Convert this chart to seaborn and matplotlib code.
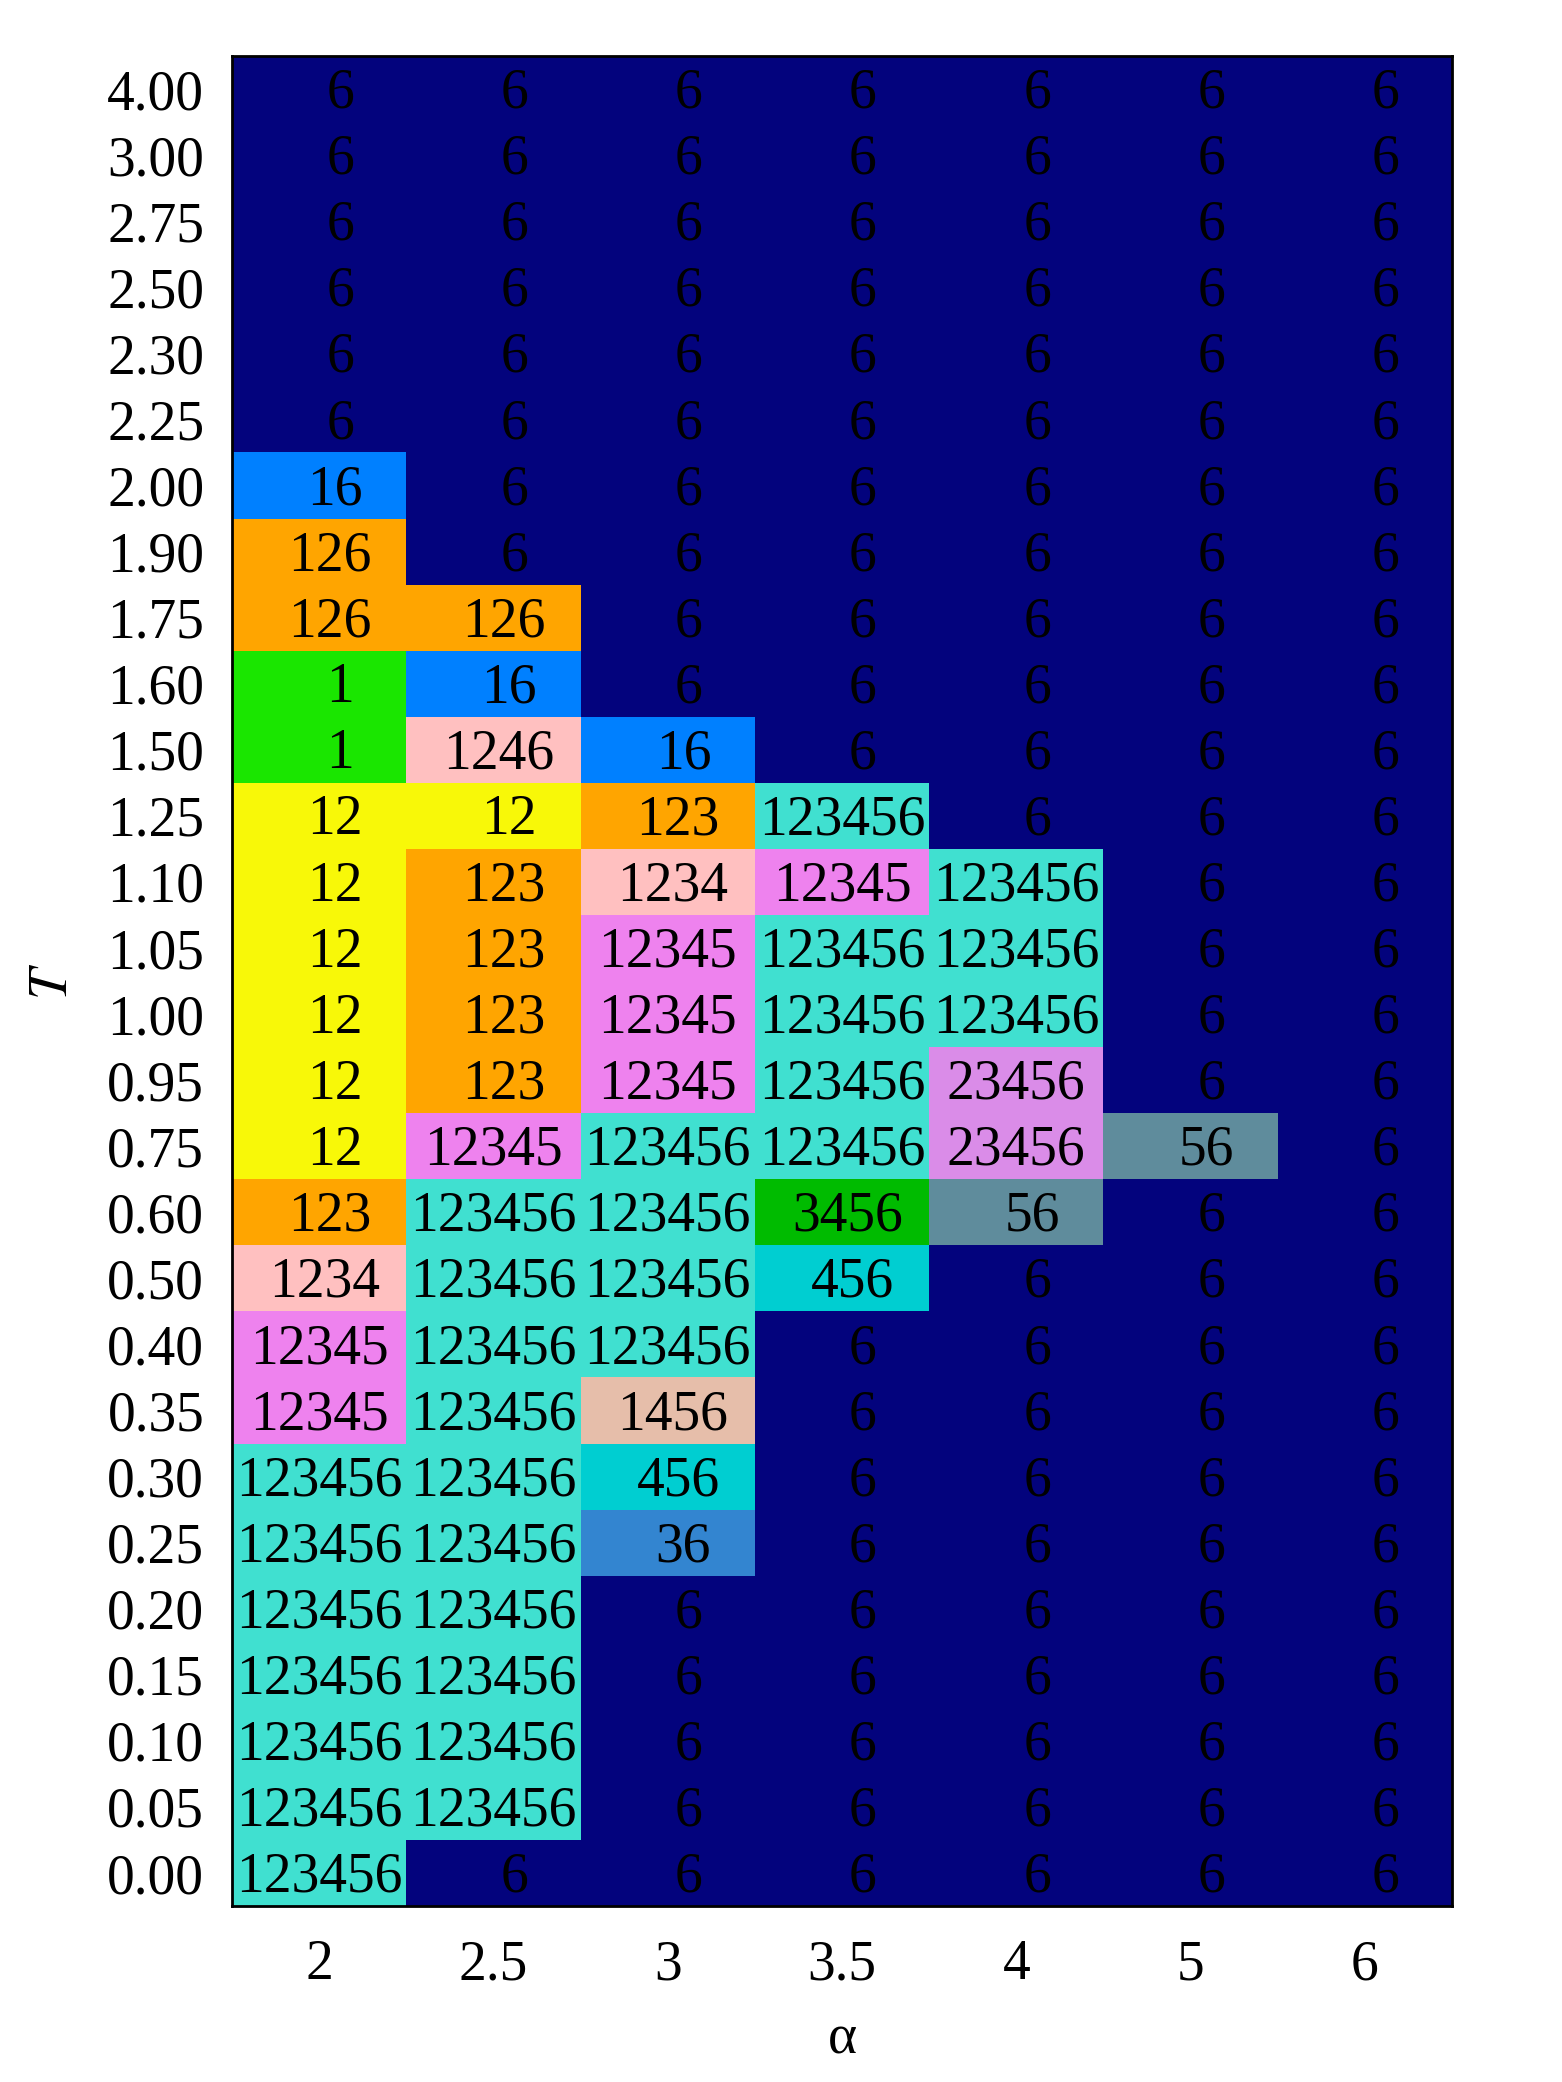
import numpy as np
import matplotlib
matplotlib.use("Agg")
import matplotlib.pyplot as plt
from matplotlib.colors import ListedColormap
import seaborn as sns


alphas = ["2", "2.5", "3", "3.5", "4", "5", "6"]
temps = ["4.00", "3.00", "2.75", "2.50", "2.30", "2.25", "2.00", "1.90", "1.75",
         "1.60", "1.50", "1.25", "1.10", "1.05", "1.00", "0.95", "0.75", "0.60",
         "0.50", "0.40", "0.35", "0.30", "0.25", "0.20", "0.15", "0.10", "0.05", "0.00"]

phases = [
    ["6", "6", "6", "6", "6", "6", "6"],
    ["6", "6", "6", "6", "6", "6", "6"],
    ["6", "6", "6", "6", "6", "6", "6"],
    ["6", "6", "6", "6", "6", "6", "6"],
    ["6", "6", "6", "6", "6", "6", "6"],
    ["6", "6", "6", "6", "6", "6", "6"],
    ["16", "6", "6", "6", "6", "6", "6"],
    ["126", "6", "6", "6", "6", "6", "6"],
    ["126", "126", "6", "6", "6", "6", "6"],
    ["1", "16", "6", "6", "6", "6", "6"],
    ["1", "1246", "16", "6", "6", "6", "6"],
    ["12", "12", "123", "123456", "6", "6", "6"],
    ["12", "123", "1234", "12345", "123456", "6", "6"],
    ["12", "123", "12345", "123456", "123456", "6", "6"],
    ["12", "123", "12345", "123456", "123456", "6", "6"],
    ["12", "123", "12345", "123456", "23456", "6", "6"],
    ["12", "12345", "123456", "123456", "23456", "56", "6"],
    ["123", "123456", "123456", "3456", "56", "6", "6"],
    ["1234", "123456", "123456", "456", "6", "6", "6"],
    ["12345", "123456", "123456", "6", "6", "6", "6"],
    ["12345", "123456", "1456", "6", "6", "6", "6"],
    ["123456", "123456", "456", "6", "6", "6", "6"],
    ["123456", "123456", "36", "6", "6", "6", "6"],
    ["123456", "123456", "6", "6", "6", "6", "6"],
    ["123456", "123456", "6", "6", "6", "6", "6"],
    ["123456", "123456", "6", "6", "6", "6", "6"],
    ["123456", "123456", "6", "6", "6", "6", "6"],
    ["123456", "6", "6", "6", "6", "6", "6"],
]

phase_names = ["6", "16", "126", "1", "1246", "12", "123", "1234", "12345",
               "123456", "23456", "56", "3456", "456", "1456", "36"]
phase_colors = ["#03037d", "#0080ff", "#ffa500", "#1ae600", "#ffc0c0", "#f8f808",
                "#ffa500", "#ffc0c0", "#ee82ee", "#40e0d0", "#da8ce8", "#5f8c9c",
                "#00bb00", "#00ced1", "#e6beaa", "#3385d0"]

labels = np.array(phases)
codes = np.vectorize(phase_names.index)(labels)
cmap = ListedColormap(phase_colors)

plt.rcParams["font.family"] = ["Liberation Serif", "DejaVu Serif"]
plt.rcParams["mathtext.fontset"] = "stix"

fig = plt.figure(figsize=(15.62, 20.82), dpi=100)
ax = fig.add_axes([0.1485, 0.0845, 0.7811, 0.8886])

sns.heatmap(codes, ax=ax, cmap=cmap, vmin=-0.5, vmax=len(phase_names) - 0.5,
            annot=labels, fmt="", cbar=False,
            annot_kws={"fontsize": 40, "color": "black"},
            xticklabels=alphas, yticklabels=temps)

# labels in the original sit a little right of centre when short
for t in ax.texts:
    n = len(t.get_text())
    x, y = t.get_position()
    t.set_position((x + max(0, 5 - n) * 0.03, y + 0.07))

ax.tick_params(axis="both", length=0, labelsize=40)
ax.tick_params(axis="y", pad=20, rotation=0)
ax.tick_params(axis="x", pad=24, rotation=0)
for lab in ax.get_yticklabels():
    lab.set_va("center_baseline")

for s in ax.spines.values():
    s.set_visible(True)
    s.set_linewidth(2)
    s.set_color("black")

ax.set_xlabel("α", fontsize=40, labelpad=16)
ax.set_ylabel("$T$", fontsize=40, labelpad=20)

fig.savefig("out.png", dpi=100)
